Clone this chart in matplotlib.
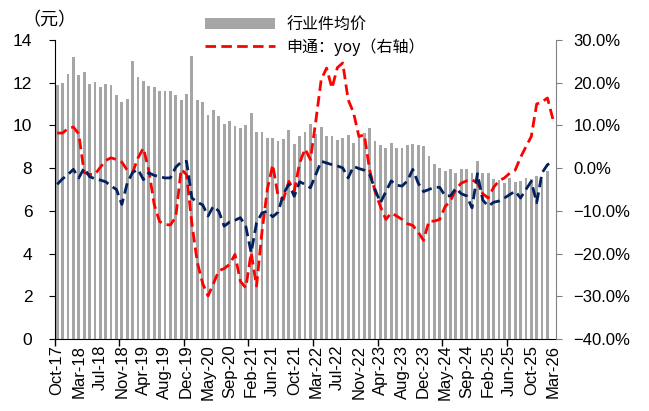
import numpy as np
import matplotlib
matplotlib.use('Agg')
import matplotlib.pyplot as plt
from matplotlib.ticker import FixedLocator, FuncFormatter

plt.rcParams['font.family'] = ['Liberation Sans', 'Noto Sans CJK SC', 'DejaVu Sans']

# months (January merged into February, so no Jan)
months = []
for y in range(2017, 2027):
    for m in ['Feb', 'Mar', 'Apr', 'May', 'Jun', 'Jul', 'Aug', 'Sep', 'Oct', 'Nov', 'Dec']:
        if (y == 2017 and m not in ('Oct', 'Nov', 'Dec')) or (y == 2026 and m not in ('Feb', 'Mar')):
            continue
        months.append(f"{m}-{str(y)[2:]}")

# industry average price per parcel (yuan), Mar-26 not yet published
price = [11.9, 12.0, 12.4, 13.2, 12.35, 12.5, 11.95, 12.05, 11.8, 11.95,
         11.9, 11.4, 11.1, 11.25, 13.0, 12.26, 12.07, 11.82, 11.79, 11.6,
         11.63, 11.62, 11.42, 11.2, 11.48, 13.25, 11.2, 11.1, 10.47, 10.7,
         10.45, 10.05, 10.2, 9.95, 9.89, 10.02, 10.58, 9.7, 9.7, 9.4,
         9.43, 9.27, 9.36, 9.77, 9.15, 9.49, 9.7, 10.05, 9.61, 9.92,
         9.49, 9.52, 9.33, 9.39, 9.55, 9.18, 9.46, 9.64, 9.87, 9.28,
         9.08, 8.96, 9.18, 8.95, 8.92, 9.08, 9.12, 9.1, 9.02, 8.57,
         8.18, 8.02, 7.87, 7.96, 7.78, 7.96, 7.96, 7.75, 8.34, 7.78,
         7.78, 7.5, 7.44, 7.28, 7.53, 7.37, 7.4, 7.56, 7.47, 7.62,
         7.45, 7.85, np.nan]

# STO yoy (%)
sto_yoy = [8.2, 8.2, 9.3, 9.6, 8.0, -1.0, -1.5, -1.5, 0.2, 1.8,
           2.4, 2.0, 1.4, -0.5, -1.0, 2.4, 4.7, -0.5, -8.5, -12.5,
           -13.2, -13.3, -11.5, -0.3, -1.5, -13.0, -22.0, -27.0, -29.9, -27.0,
           -24.0, -23.5, -22.5, -20.2, -26.5, -28.0, -19.8, -27.6, -15.0, -5.0,
           0.8, -6.6, -7.3, -3.1, -5.4, 1.2, 4.5, 2.0, 11.0, 20.7,
           23.4, 18.7, 23.5, 24.6, 16.0, 13.0, 7.4, 7.8, -0.5, -5.5,
           -9.0, -12.0, -10.5, -11.2, -12.0, -13.0, -13.4, -15.0, -16.9, -12.4,
           -12.4, -12.0, -9.0, -7.7, -5.0, -3.5, -3.0, -2.7, -3.5, -6.0,
           -7.0, -4.5, -3.0, -2.3, -1.2, -0.5, 2.5, 5.0, 7.4, 15.0,
           15.5, 16.4, 11.5]

# industry price yoy (%)
ind_yoy = [-3.8, -2.5, -1.5, -0.3, -2.3, 0.0, -2.0, -2.5, -2.8, -3.2,
           -4.2, -5.0, -8.5, -3.5, -1.0, -0.3, -2.7, -1.1, -1.7, -2.0,
           -2.3, -2.3, 0.2, 1.4, 1.6, -7.0, -8.0, -8.6, -11.2, -8.9,
           -10.1, -13.6, -12.6, -12.2, -11.6, -13.6, -19.8, -12.8, -10.5, -10.1,
           -11.4, -10.3, -6.0, -3.8, -6.6, -3.2, -3.8, -4.6, -1.5, 1.6,
           1.2, 0.8, 0.5, 0.05, -2.3, 0.4, -0.1, -0.5, -1.5, -5.0,
           -8.1, -5.5, -3.0, -4.0, -4.2, -3.0, -0.3, -3.5, -5.5, -5.0,
           -4.5, -4.5, -6.5, -6.5, -4.7, -6.0, -6.5, -9.3, -1.3, -7.5,
           -8.9, -8.0, -7.7, -7.0, -6.2, -5.4, -7.0, -5.0, -3.1, -8.1,
           -1.1, 0.8, 1.4]

x = np.arange(len(months))

fig = plt.figure(figsize=(6.49, 4.11), dpi=100)
ax = fig.add_axes([0.084, 0.175, 0.772, 0.728])
ax2 = ax.twinx()

bars = ax.bar(x, price, width=0.52, color='#a6a6a6', label='行业件均价')
ax.set_xlim(-0.5, len(months) - 0.5)
ax.set_ylim(0, 14)
ax.set_yticks(range(0, 15, 2))

dash = (0, (3.8, 1.9))
l1, = ax2.plot(x, sto_yoy, color='#ff0000', lw=2, ls=dash, label='申通：yoy（右轴）')
ax2.plot(x, ind_yoy, color='#002060', lw=2, ls=dash)
ax2.set_ylim(-40, 30)
ax2.set_yticks(range(-40, 31, 10))
ax2.yaxis.set_major_formatter(FuncFormatter(lambda v, p: f"{v:.1f}%".replace('-', '−')))

# x: labels every 4 months, tick marks every 12 at category edges
ax.set_xticks(x[::4])
ax.set_xticklabels(months[::4], rotation=90, fontsize=12)
ax.tick_params(axis='x', length=0, pad=4)
ax.xaxis.set_minor_locator(FixedLocator(np.arange(-0.5, len(months), 12)))
ax.tick_params(axis='x', which='minor', length=5, width=1, color='black')

ax.tick_params(axis='y', labelsize=12.5, length=4, color='black', pad=12)
ax2.tick_params(axis='y', labelsize=12, length=4, color='#808080', pad=9)

for a in (ax, ax2):
    a.spines['top'].set_visible(False)
ax.spines['right'].set_visible(False)
ax2.spines['left'].set_visible(False)
ax2.spines['bottom'].set_visible(False)
ax2.spines['right'].set_color('#808080')
ax.spines['left'].set_color('black')
ax.spines['bottom'].set_color('black')

fig.text(0.035, 0.95, '（元）', fontsize=13, family=['Noto Sans CJK SC'], va='center')

fig.legend(handles=[bars, l1], loc='upper left', bbox_to_anchor=(0.294, 0.995),
           frameon=False, handlelength=4.4, handletextpad=0.7, labelspacing=0.3,
           prop={'family': ['Noto Sans CJK SC', 'Liberation Sans'], 'size': 11.5})

fig.savefig('out.png', dpi=100)
